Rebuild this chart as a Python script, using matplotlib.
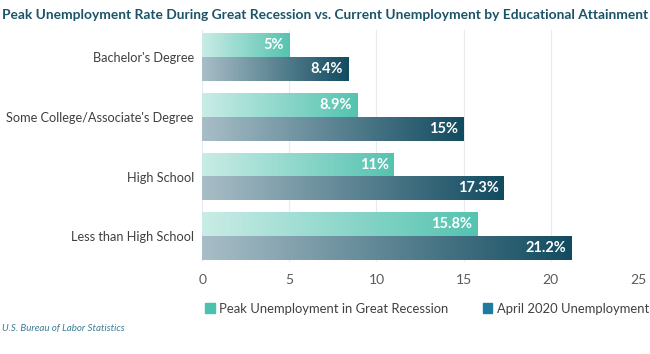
import numpy as np
import matplotlib
matplotlib.use('Agg')
import matplotlib.pyplot as plt
from matplotlib.colors import LinearSegmentedColormap
from matplotlib.patches import Patch

plt.rcParams['font.family'] = ['Lato', 'DejaVu Sans']

categories = ["Bachelor's Degree", "Some College/Associate's Degree", "High School", "Less than High School"]
peak = [5, 8.9, 11, 15.8]
april = [8.4, 15, 17.3, 21.2]
peak_labels = ['5%', '8.9%', '11%', '15.8%']
april_labels = ['8.4%', '15%', '17.3%', '21.2%']
series_names = ['Peak Unemployment in Great Recession', 'April 2020 Unemployment']

peak_cmap = LinearSegmentedColormap.from_list('peak', ['#c9ece6', '#55c3b0'])
april_cmap = LinearSegmentedColormap.from_list('april', ['#a8bec7', '#124b60'])

fig = plt.figure(figsize=(6.5, 3.54), dpi=100)
ax = fig.add_axes([0.311, 0.26, 0.6705, 0.655])

grad = np.linspace(0, 1, 256).reshape(1, -1)
h = 0.4
for i in range(len(categories)):
    # peak bar sits above, april below (axis is inverted)
    ax.imshow(grad, extent=[0, peak[i], i, i - h], cmap=peak_cmap, aspect='auto', zorder=2)
    ax.imshow(grad, extent=[0, april[i], i + h, i], cmap=april_cmap, aspect='auto', zorder=2)
    ax.text(peak[i] - 0.3, i - h / 2, peak_labels[i], color='white', fontweight='bold',
            fontsize=10.5, ha='right', va='center', zorder=3)
    ax.text(april[i] - 0.3, i + h / 2, april_labels[i], color='white', fontweight='bold',
            fontsize=10.5, ha='right', va='center', zorder=3)

ax.set_xlim(0, 25)
ax.set_ylim(3.43, -0.45)
ax.set_xticks([0, 5, 10, 15, 20, 25])
ax.set_yticks(range(len(categories)))
ax.set_yticklabels(categories)
ax.tick_params(axis='y', length=0, pad=6, labelsize=9.2, labelcolor='#404040')
ax.tick_params(axis='x', length=0, pad=9, labelsize=10, labelcolor='#5a5a5a')
ax.grid(axis='x', color='#e6ebee', linewidth=0.8, zorder=1)
for s in ax.spines.values():
    s.set_visible(False)
ax.axhline(3.43, color='#e6ebee', linewidth=0.8, zorder=1)

fig.text(0.003, 0.975, 'Peak Unemployment Rate During Great Recession vs. Current Unemployment by Educational Attainment',
         fontsize=9.9, fontweight='bold', color='#1b5468', ha='left', va='top')

handles = [Patch(color='#4cc1ad'), Patch(color='#1e7a9f')]
leg = fig.legend(handles, series_names, loc='center right', bbox_to_anchor=(1.017, 0.128), ncol=2,
                 frameon=False, fontsize=9.4, handlelength=0.75, handleheight=0.75,
                 handletextpad=0.35, columnspacing=2.6)
for t in leg.get_texts():
    t.set_color('#404040')

fig.text(0.003, 0.073, 'U.S. Bureau of Labor Statistics', fontsize=7.0, style='italic',
         color='#3c7d96', ha='left', va='center')

fig.savefig('out.png', dpi=100)
